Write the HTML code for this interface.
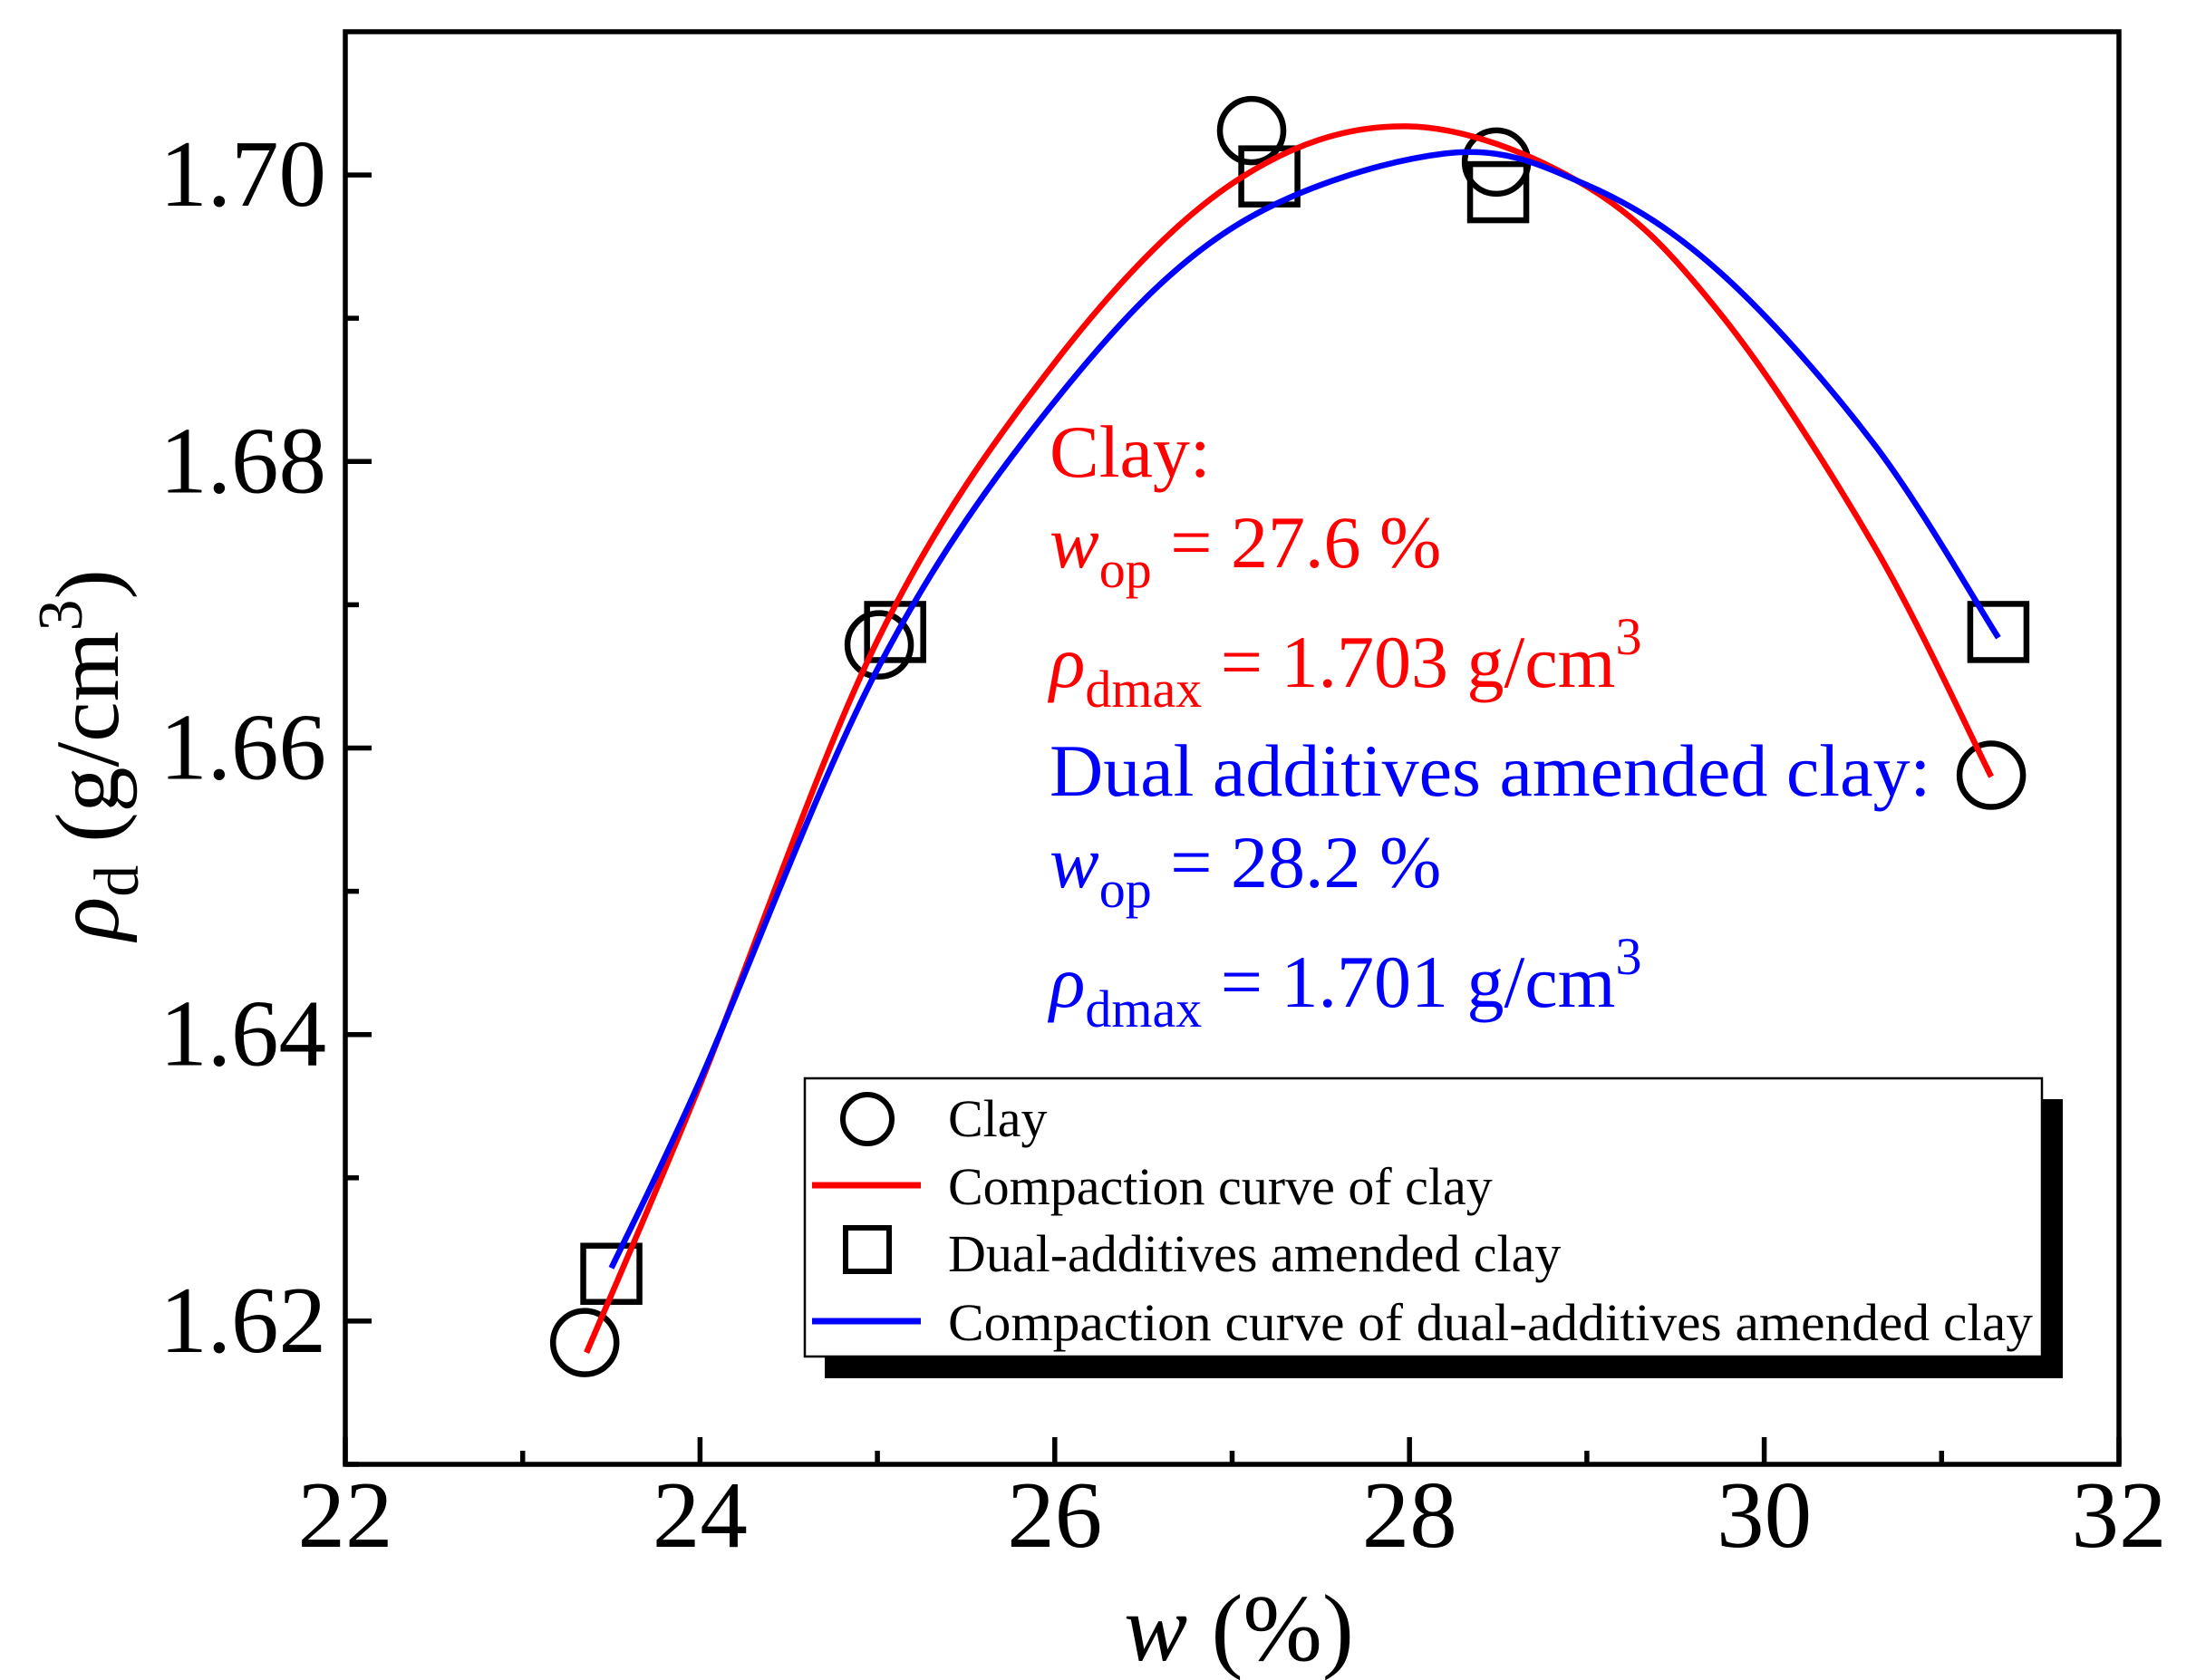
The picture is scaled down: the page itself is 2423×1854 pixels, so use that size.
<!DOCTYPE html>
<html><head><meta charset="utf-8">
<style>
html,body{margin:0;padding:0;background:#fff;}
svg{display:block;font-family:"Liberation Serif","Times New Roman",serif;}
</style></head>
<body>
<svg id="chart" width="2423" height="1854" viewBox="0 0 2423 1854" xmlns="http://www.w3.org/2000/svg">
<rect x="0" y="0" width="2423" height="1854" fill="#fff"/>
<g id="marks"></g>
<g id="axes"></g>

<g font-size="82">
  <text x="1158" y="526" fill="#ff0000">Clay:</text>
  <text x="1158" y="626" fill="#ff0000"><tspan font-style="italic">w</tspan><tspan font-size="58" dy="22">op</tspan><tspan dy="-22"> = 27.6 %</tspan></text>
  <text x="1158" y="758" fill="#ff0000"><tspan font-style="italic">ρ</tspan><tspan font-size="58" dy="22">dmax</tspan><tspan dy="-22"> = 1.703 g/cm</tspan><tspan font-size="58" dy="-36">3</tspan></text>
  <text x="1158" y="878" fill="#0000ff">Dual additives amended clay:</text>
  <text x="1158" y="979" fill="#0000ff"><tspan font-style="italic">w</tspan><tspan font-size="58" dy="22">op</tspan><tspan dy="-22"> = 28.2 %</tspan></text>
  <text x="1158" y="1111" fill="#0000ff"><tspan font-style="italic">ρ</tspan><tspan font-size="58" dy="22">dmax</tspan><tspan dy="-22"> = 1.701 g/cm</tspan><tspan font-size="58" dy="-36">3</tspan></text>
</g>

<g>
  <rect x="910" y="1213" width="1366" height="308" fill="#000"/>
  <rect x="888" y="1190" width="1365" height="307" fill="#fff" stroke="#000" stroke-width="2.5"/>
  <g font-size="58" fill="#000">
    <circle cx="957" cy="1235" r="27" fill="none" stroke="#000" stroke-width="6"/>
    <text x="1046" y="1254">Clay</text>
    <line x1="896" y1="1308" x2="1016" y2="1308" stroke="#ff0000" stroke-width="7"/>
    <text x="1046" y="1329">Compaction curve of clay</text>
    <rect x="933" y="1355" width="48" height="48" fill="none" stroke="#000" stroke-width="6"/>
    <text x="1046" y="1403">Dual-additives amended clay</text>
    <line x1="896" y1="1458" x2="1016" y2="1458" stroke="#0000ff" stroke-width="7"/>
    <text x="1046" y="1479" textLength="1197" lengthAdjust="spacingAndGlyphs">Compaction curve of dual-additives amended clay</text>
  </g>
</g>

<text x="1367" y="1832" font-size="105" text-anchor="middle"><tspan font-style="italic">w</tspan> (%)</text>
<text transform="translate(130,833) rotate(-90)" font-size="100" text-anchor="middle"><tspan font-style="italic">ρ</tspan><tspan font-size="70" dy="22">d</tspan><tspan dy="-22"> (g/cm</tspan><tspan font-size="70" dy="-40">3</tspan><tspan dy="40">)</tspan></text>

<script>
const xTicks = [22, 24, 26, 28, 30, 32];
const xMinor = [23, 25, 27, 29, 31];
const yTicks = [1.62, 1.64, 1.66, 1.68, 1.70];
const yTickLabels = ["1.62", "1.64", "1.66", "1.68", "1.70"];
const yMinor = [1.61, 1.63, 1.65, 1.67, 1.69];
const clayW = [23.35, 25.01, 27.11, 28.49, 31.28];
const clayRho = [1.6185, 1.6672, 1.7031, 1.7009, 1.6581];
const amendedW = [23.50, 25.10, 27.21, 28.50, 31.32];
const amendedRho = [1.6233, 1.6681, 1.6999, 1.6988, 1.6681];
const clayCurveW = [23.36, 24, 25, 26, 27, 27.98, 29, 29.76, 30.62, 31.28];
const clayCurveRho = [1.6178, 1.6365, 1.6675, 1.6869, 1.6994, 1.7034, 1.6992, 1.6902, 1.6741, 1.6580];
const amendedCurveW = [23.50, 24, 25, 26, 27, 28.2, 29, 29.76, 30.62, 31.32];
const amendedCurveRho = [1.6237, 1.6368, 1.6655, 1.6842, 1.6963, 1.7015, 1.6993, 1.6931, 1.6812, 1.6677];

const L = 381, R = 2338, T = 35, B = 1616;
const xMin = 22, xMax = 32, yMin = 1.61, yMax = 1.71;
function sx(v) { return L + (v - xMin) / (xMax - xMin) * (R - L); }
function sy(v) { return B - (v - yMin) / (yMax - yMin) * (B - T); }
const NS = "http://www.w3.org/2000/svg";
const marks = document.getElementById('marks');
const axes = document.getElementById('axes');
function mk(tag, attrs, parent) {
  const e = document.createElementNS(NS, tag);
  for (const k in attrs) e.setAttribute(k, attrs[k]);
  parent.appendChild(e);
  return e;
}
function smoothPath(xs, ys) {
  const p = xs.map((x, i) => [sx(x), sy(ys[i])]);
  let d = "M" + p[0][0] + "," + p[0][1];
  for (let i = 0; i < p.length - 1; i++) {
    const p0 = p[Math.max(i - 1, 0)], p1 = p[i], p2 = p[i + 1], p3 = p[Math.min(i + 2, p.length - 1)];
    const c1 = [p1[0] + (p2[0] - p0[0]) / 6, p1[1] + (p2[1] - p0[1]) / 6];
    const c2 = [p2[0] - (p3[0] - p1[0]) / 6, p2[1] - (p3[1] - p1[1]) / 6];
    d += " C" + c1[0] + "," + c1[1] + " " + c2[0] + "," + c2[1] + " " + p2[0] + "," + p2[1];
  }
  return d;
}
clayW.forEach((w, i) => {
  const c = mk('circle', {cx: sx(w), cy: sy(clayRho[i]), r: 35, fill: 'none', stroke: '#000', 'stroke-width': 6.5}, marks);
  
  
});
amendedW.forEach((w, i) => {
  const r = mk('rect', {x: sx(w) - 31, y: sy(amendedRho[i]) - 31, width: 62, height: 62, fill: 'none', stroke: '#000', 'stroke-width': 6.5}, marks);
  
  
});
const rc = mk('path', {d: smoothPath(clayCurveW, clayCurveRho), fill: 'none', stroke: '#ff0000', 'stroke-width': 6.5}, marks);


const bc = mk('path', {d: smoothPath(amendedCurveW, amendedCurveRho), fill: 'none', stroke: '#0000ff', 'stroke-width': 6.5}, marks);



const fr = mk('rect', {x: L, y: T, width: R - L, height: B - T, fill: 'none', stroke: '#000', 'stroke-width': 5.5}, axes);


xTicks.forEach(v => {
  const t = mk('line', {x1: sx(v), x2: sx(v), y1: B, y2: B - 30, stroke: '#000', 'stroke-width': 5.5}, axes);
  
  
  const lb = mk('text', {x: sx(v), y: 1707, 'font-size': 105, 'text-anchor': 'middle'}, axes);
  lb.textContent = String(v);
  
  
});
xMinor.forEach(v => {
  const t = mk('line', {x1: sx(v), x2: sx(v), y1: B, y2: B - 15, stroke: '#000', 'stroke-width': 5.5}, axes);
  
  
});
yTicks.forEach((v, i) => {
  const t = mk('line', {x1: L, x2: L + 29, y1: sy(v), y2: sy(v), stroke: '#000', 'stroke-width': 5.5}, axes);
  
  
  const lb = mk('text', {x: 360, y: sy(v) + 34, 'font-size': 105, 'text-anchor': 'end'}, axes);
  lb.textContent = yTickLabels[i];
  
  
});
yMinor.forEach(v => {
  const t = mk('line', {x1: L, x2: L + 15, y1: sy(v), y2: sy(v), stroke: '#000', 'stroke-width': 5.5}, axes);
  
  
});
</script>
</svg>
</body></html>
